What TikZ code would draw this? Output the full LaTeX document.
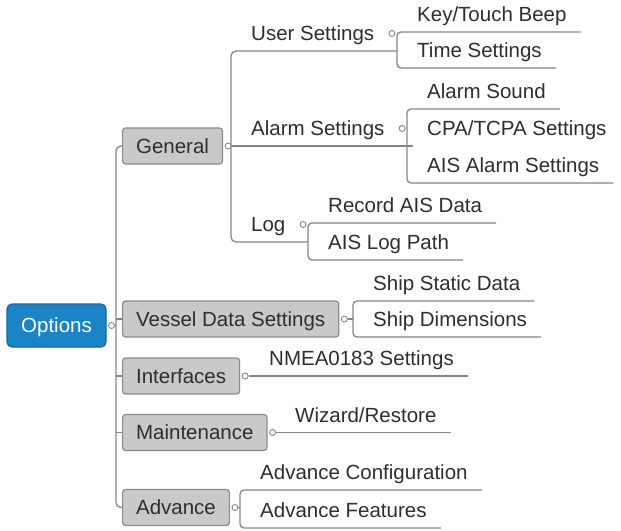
\documentclass[tikz,border=0pt]{standalone}
\usepackage{fontspec}
\setmainfont{Liberation Sans}
\usepackage{xcolor}
\usepackage{tikz}
\usetikzlibrary{positioning}

\definecolor{optblue}{HTML}{1A84C7}
\definecolor{optedge}{HTML}{15679E}
\definecolor{boxgray}{HTML}{C9C9C9}
\definecolor{boxedge}{HTML}{8A8A8A}
\definecolor{linegray}{HTML}{858585}
\definecolor{inkgray}{HTML}{2E2E2E}

\begin{document}
\begin{tikzpicture}[
  x=1pt, y=-1pt,
  root/.style={rectangle, rounded corners=5pt, draw=optedge, line width=1.2pt, fill=optblue, text=white, font=\fontsize{20.5}{24}\selectfont, minimum width=99pt, minimum height=43pt, text height=14.7pt, text depth=0pt},
  topic/.style={rectangle, rounded corners=3pt, draw=boxedge, line width=1.2pt, fill=boxgray, text=inkgray, font=\fontsize{20.5}{24}\selectfont, minimum height=36pt, inner xsep=13.5pt, text height=14.7pt, text depth=0pt},
  leaf/.style={anchor=south west, text=inkgray, font=\fontsize{20.5}{24}\selectfont, inner xsep=14pt, inner ysep=10pt, text height=14.7pt, text depth=0pt},
  knob/.style={circle, draw=linegray, fill=white, line width=0.9pt, inner sep=0pt, minimum size=6pt},
  link/.style={draw=linegray, line width=1.3pt}
]
  \useasboundingbox (0,0) rectangle (621,530);

  % Root: options
  \node[root] (opt) at (56.5,325.5) {Options};
  \node[knob, right=1.5pt of opt] (optk) {};

  % Main topics
  \node[topic, anchor=west] (gen) at (122,146) {General};
  \node[topic, anchor=west] (ves) at (122,319) {Vessel Data Settings};
  \node[topic, anchor=west] (itf) at (122,376) {Interfaces};
  \node[topic, anchor=west] (mnt) at (122,432.5) {Maintenance};
  \node[topic, anchor=west] (adv) at (122,507.5) {Advance};
  \node[knob, right=1.5pt of gen] (genk) {};
  \node[knob, right=1.5pt of ves] (vesk) {};
  \node[knob, right=1.5pt of itf] (itfk) {};
  \node[knob, right=1.5pt of mnt] (mntk) {};
  \node[knob, right=1.5pt of adv] (advk) {};

  % Trunk: root to main topics
  \coordinate (otr) at (116,325.5);
  \draw[link] (optk) -- (otr);
  \draw[link, rounded corners=5pt] (gen.west) -| (otr) |- (adv.west);
  \draw[link] (ves.west) -- (ves.west -| otr);
  \draw[link] (itf.west) -- (itf.west -| otr);
  \draw[link] (mnt.west) -- (mnt.west -| otr);

  % General: subtopics
  \node[leaf] (usr) at (237,51) {User Settings};
  \node[leaf] (alm) at (237,146) {Alarm Settings};
  \node[leaf] (log) at (237,242) {Log};
  \node[knob, right=0pt of usr] (usrk) {};
  \node[knob, right=0pt of alm] (almk) {};
  \node[knob, right=0pt of log] (logk) {};
  \coordinate (gtr) at (231,146);
  \coordinate (usrbr) at (397,51);
  \coordinate (almbr) at (407,146);
  \coordinate (logbr) at (308,242);
  \draw[link, rounded corners=5pt] (usrbr) -| (gtr) |- (logbr);

  % User settings
  \node[leaf] (key) at (403,32) {Key/Touch Beep};
  \node[leaf] (tim) at (403,68) {Time Settings};
  \draw[link, rounded corners=4pt] (key.south east) -| (usrbr) |- (tim.south east);

  % Alarm settings
  \node[leaf] (snd) at (413,109) {Alarm Sound};
  \node[leaf] (cpa) at (413,146) {CPA/TCPA Settings};
  \node[leaf] (ais) at (413,183) {AIS Alarm Settings};
  \draw[link] (genk) -- (cpa.south west);
  \draw[link, rounded corners=4pt] (snd.south east) -| (almbr) |- (ais.south east);

  % Log
  \node[leaf] (rec) at (314,223) {Record AIS Data};
  \node[leaf] (path) at (314,260) {AIS Log Path};
  \draw[link, rounded corners=4pt] (rec.south east) -| (logbr) |- (path.south east);

  % Vessel data settings
  \coordinate (vesbr) at (353,319);
  \node[leaf] (stat) at (359,301) {Ship Static Data};
  \node[leaf] (dim) at (359,337) {Ship Dimensions};
  \draw[link] (vesk) -- (vesbr);
  \draw[link, rounded corners=4pt] (stat.south east) -| (vesbr) |- (dim.south east);

  % Interfaces and maintenance
  \node[leaf] (nmea) at (255,376) {NMEA0183 Settings};
  \node[leaf] (wiz) at (281,432.5) {Wizard/Restore};
  \draw[link] (itfk) -- (nmea.south east);
  \draw[link] (mntk) -- (wiz.south east);

  % Advance
  \coordinate (advbr) at (240,507.5);
  \node[leaf] (acfg) at (246,490) {Advance Configuration};
  \node[leaf] (afeat) at (246,528) {Advance Features};
  \draw[link] (advk) -- (advbr);
  \draw[link, rounded corners=4pt] (acfg.south east) -| (advbr) |- (afeat.south east);
\end{tikzpicture}
\end{document}
